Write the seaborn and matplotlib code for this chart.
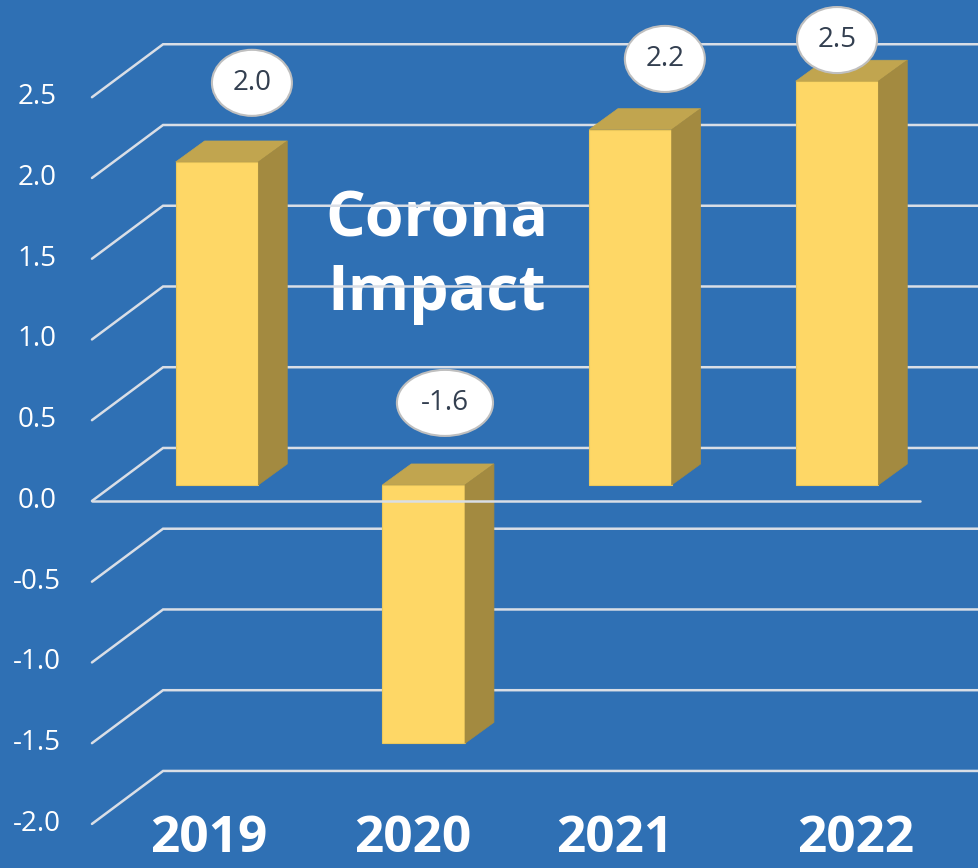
import numpy as np
import matplotlib
matplotlib.use('Agg')
import matplotlib.pyplot as plt
from matplotlib.patches import Polygon, Ellipse
import seaborn as sns

# data
years = ['2019', '2020', '2021', '2022']
growth = [2.0, -1.6, 2.2, 2.5]
labels = ['2.0', '-1.6', '2.2', '2.5']
y_ticks = [2.5, 2.0, 1.5, 1.0, 0.5, 0.0, -0.5, -1.0, -1.5, -2.0]

bg = '#2F70B4'
grid_c = '#D9DEE6'
front_c = '#FED766'
top_c = '#C1A54F'
side_c = '#A38A40'

sns.set_style('white')
plt.rcParams['font.family'] = ['Open Sans', 'DejaVu Sans']

fig = plt.figure(figsize=(9.79, 8.68), dpi=100, facecolor=bg)
ax = fig.add_axes([0, 0, 1, 1])
ax.set_facecolor(bg)

# bars (front faces)
sns.barplot(x=years, y=growth, color=front_c, saturation=1, width=0.4,
            edgecolor='#EBC85C', linewidth=0.8, ax=ax, zorder=2)

# 3d offsets in data units
dx, dy = 0.140, 0.130      # bar depth
wall_dy = 0.229            # back wall above bar plane
front_dy = -0.099          # front edge below bar plane
x_left, x_back, x_right = -0.605, -0.261, 3.75

# gridlines: front-left diagonal then back wall line
for v in y_ticks:
    ax.plot([x_left, x_back, x_right], [v + front_dy, v + wall_dy, v + wall_dy],
            color=grid_c, lw=1.8, zorder=1, solid_joinstyle='miter')
    ax.text(-0.871, v + front_dy, f'{v:.1f}', color='white', fontsize=20,
            ha='center', va='center')

# floor front line at zero
ax.plot([x_left, 3.40], [front_dy, front_dy], color=grid_c, lw=1.8, zorder=3)

# top and side faces
for p in ax.patches[:]:
    x0 = p.get_x()
    x1 = x0 + p.get_width()
    y0 = p.get_y()
    y1 = y0 + p.get_height()
    top, bot = max(y0, y1), min(y0, y1)
    ax.add_patch(Polygon([(x0, top), (x0 + dx, top + dy), (x1 + dx, top + dy), (x1, top)],
                         closed=True, facecolor=top_c, edgecolor=top_c, lw=0.5, zorder=2))
    ax.add_patch(Polygon([(x1, bot), (x1, top), (x1 + dx, top + dy), (x1 + dx, bot + dy)],
                         closed=True, facecolor=side_c, edgecolor=side_c, lw=0.5, zorder=2))

# value labels in ellipses (x position, offset above bar top)
label_pos = [(0.169, 0.49), (1.103, 0.508), (2.167, 0.438), (3.0, 0.255)]
for i, (val, lab) in enumerate(zip(growth, labels)):
    ox, oy = label_pos[i]
    cy = max(val, 0) + oy
    w = 0.387 if len(lab) == 3 else 0.465
    ax.add_patch(Ellipse((ox, cy), w, 0.409, facecolor='white',
                         edgecolor='#BFBFBF', lw=1.5, zorder=4))
    ax.text(ox, cy, lab, color='#333F50', fontsize=20, ha='center',
            va='center', zorder=5)

# year labels
year_dx = [-0.04, -0.053, -0.077, 0.092]
for i, yr in enumerate(years):
    ax.text(i + year_dx[i], -2.272, yr, color='white', fontsize=37,
            fontweight='bold', ha='center', va='baseline')

# annotation (behind the gridlines like the original)
ax.text(1.064, 1.536, 'Corona', color='white', fontsize=45,
        fontweight='bold', ha='center', va='baseline', zorder=0.5)
ax.text(1.064, 1.084, 'Impact', color='white', fontsize=45,
        fontweight='bold', ha='center', va='baseline', zorder=0.5)

ax.set_xlim(-1.050, 3.687)
ax.set_ylim(-2.372, 3.003)
ax.axis('off')

fig.savefig('out.png', dpi=100, facecolor=bg)
